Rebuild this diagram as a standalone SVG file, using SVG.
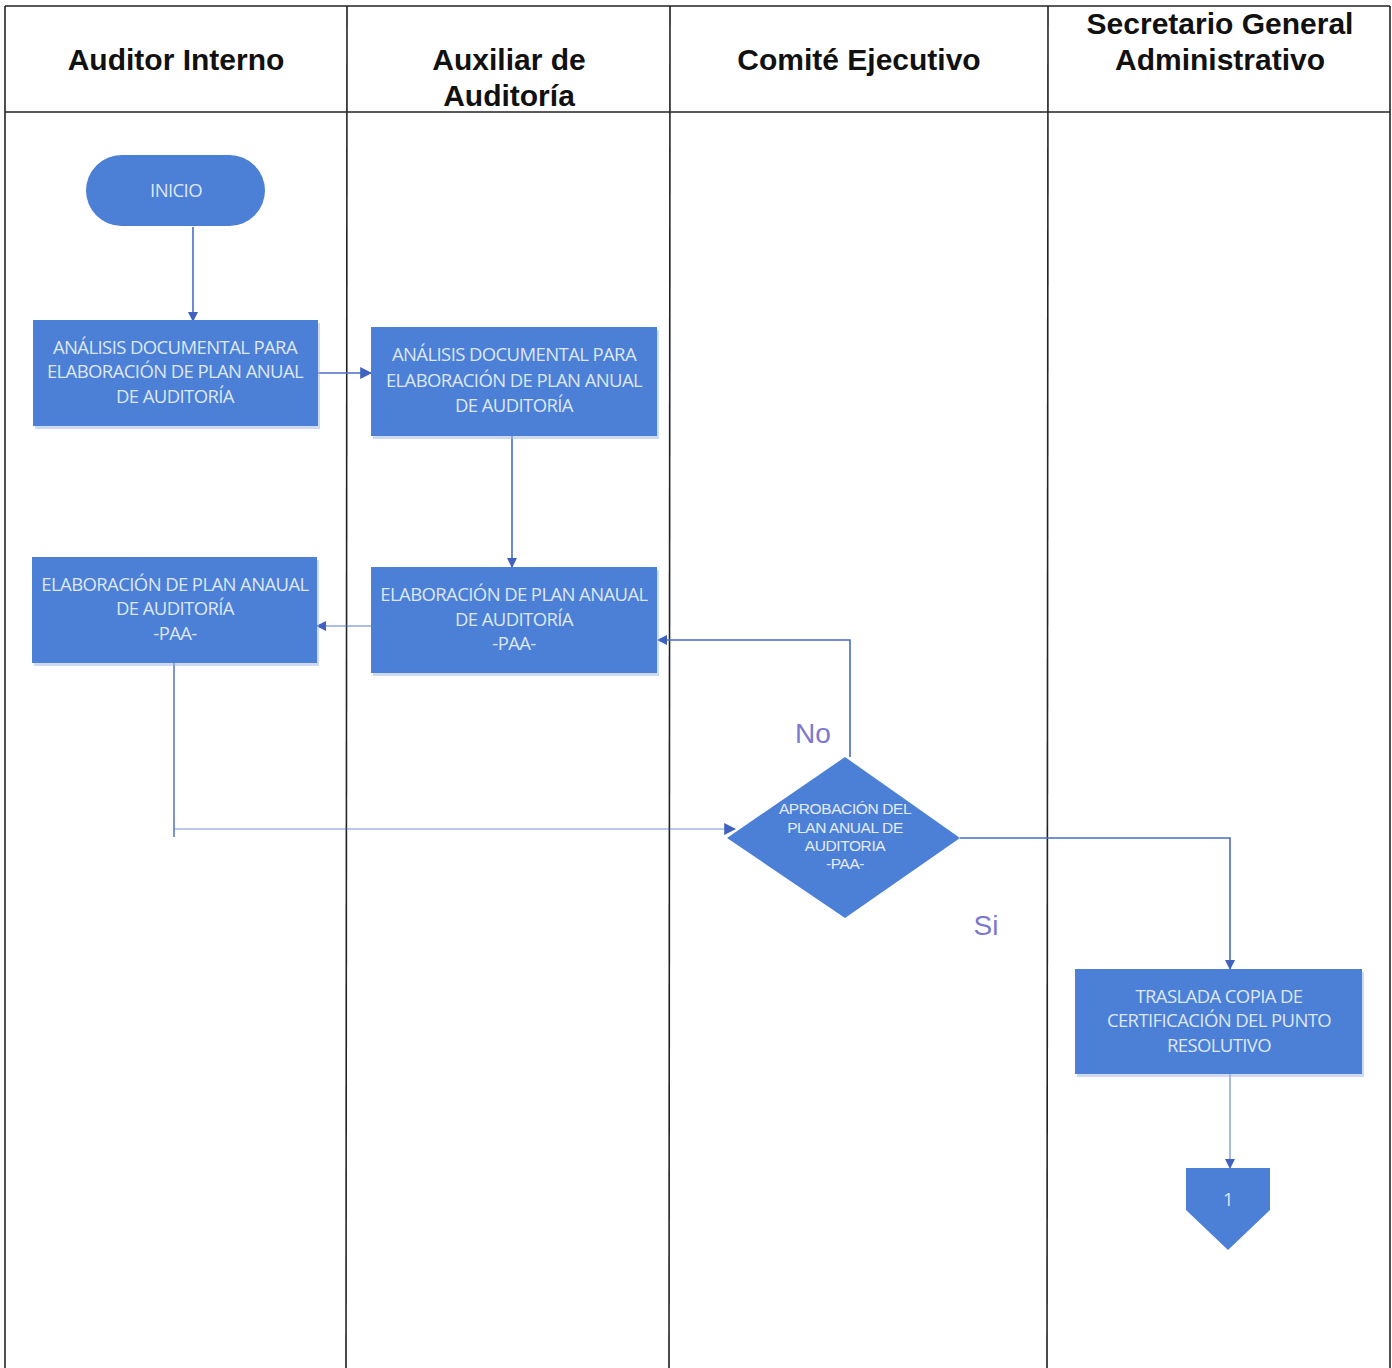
<svg xmlns="http://www.w3.org/2000/svg" width="1392" height="1368" viewBox="0 0 1392 1368">
<defs>
<style>
.lane{fill:none;stroke:#222;stroke-width:1.6}
.hdr{font-family:"Liberation Sans",Arial,sans-serif;font-weight:bold;font-size:30px;fill:#111;text-anchor:middle}
.box{fill:#4c7fd6}
.shadow{fill:#9db6e3;opacity:0.5}
.bt{font-family:"Open Sans","Noto Sans",sans-serif;font-size:18.5px;fill:#dde7f7;text-anchor:middle;letter-spacing:-0.6px}
.dt{font-family:"Liberation Sans",Arial,sans-serif;font-size:15.5px;fill:#e4ebf8;text-anchor:middle;letter-spacing:-0.4px}
.conn{fill:none;stroke:#4a6cc6;stroke-width:1.6}
.lbl{font-family:"Liberation Sans",Arial,sans-serif;font-size:28px;fill:#7b78d0;text-anchor:middle}
</style>
<marker id="arr" viewBox="0 0 10 10" refX="9" refY="5" markerWidth="10" markerHeight="10" markerUnits="userSpaceOnUse" orient="auto">
<path d="M0,0 L10,5 L0,10 z" fill="#3f62c0"/>
</marker>
<marker id="arrL" viewBox="0 0 10 10" refX="9" refY="5" markerWidth="12" markerHeight="12" markerUnits="userSpaceOnUse" orient="auto">
<path d="M0,0 L10,5 L0,10 z" fill="#3f62c0"/>
</marker>
</defs>
<rect width="1392" height="1368" fill="#fff"/>

<g id="lanes">
<line class="lane" x1="5" y1="6" x2="1390" y2="6"/>
<line class="lane" x1="5" y1="112" x2="1390" y2="112"/>
<line class="lane" x1="5" y1="6" x2="5" y2="1368"/>
<line class="lane" x1="347" y1="6" x2="346" y2="1368"/>
<line class="lane" x1="670" y1="6" x2="669" y2="1368"/>
<line class="lane" x1="1048" y1="6" x2="1047" y2="1368"/>
<line class="lane" x1="1390" y1="6" x2="1390" y2="1368"/>
<text class="hdr" x="176" y="70">Auditor Interno</text>
<text class="hdr" x="509" y="70">Auxiliar de</text>
<text class="hdr" x="509" y="106">Auditoría</text>
<text class="hdr" x="859" y="70">Comité Ejecutivo</text>
<text class="hdr" x="1220" y="34">Secretario General</text>
<text class="hdr" x="1220" y="70">Administrativo</text>
</g>

<g id="connectors">
<line class="conn" x1="193" y1="227" x2="193" y2="321" marker-end="url(#arr)"/>
<line class="conn" x1="318" y1="373" x2="371" y2="373" marker-end="url(#arrL)"/>
<line class="conn" x1="512" y1="436" x2="512" y2="567" marker-end="url(#arr)"/>
<line class="conn" x1="371" y1="626" x2="317" y2="626" marker-end="url(#arr)" stroke-opacity="0.6"/>
<polyline class="conn" points="174,663 174,837" stroke-opacity="0.9"/>
<polyline class="conn" points="174,829 735,829" stroke-opacity="0.5" marker-end="url(#arrL)"/>
<polyline class="conn" points="850,757 850,640 658,640" marker-end="url(#arr)"/>
<polyline class="conn" points="960,838 1230,838 1230,969" marker-end="url(#arr)"/>
<line class="conn" x1="1230" y1="1074" x2="1230" y2="1168" stroke-opacity="0.6" marker-end="url(#arr)"/>
<text class="lbl" x="813" y="743">No</text>
<text class="lbl" x="986" y="935">Si</text>
</g>

<g id="inicio">
<rect x="86" y="155" width="179" height="71" rx="35.5" class="box"/>
<text class="bt" x="176" y="197">INICIO</text>
</g>

<g id="analisis-auditor">
<rect x="35" y="323" width="285" height="106" class="shadow"/>
<rect x="33" y="320" width="285" height="106" class="box"/>
<text class="bt" x="175" y="354">ANÁLISIS DOCUMENTAL PARA</text>
<text class="bt" x="175" y="378">ELABORACIÓN DE PLAN ANUAL</text>
<text class="bt" x="175" y="403">DE AUDITORÍA</text>
</g>

<g id="analisis-auxiliar">
<rect x="373" y="330" width="286" height="109" class="shadow"/>
<rect x="371" y="327" width="286" height="109" class="box"/>
<text class="bt" x="514" y="361">ANÁLISIS DOCUMENTAL PARA</text>
<text class="bt" x="514" y="387">ELABORACIÓN DE PLAN ANUAL</text>
<text class="bt" x="514" y="412">DE AUDITORÍA</text>
</g>

<g id="elaboracion-auxiliar">
<rect x="373" y="570" width="286" height="106" class="shadow"/>
<rect x="371" y="567" width="286" height="106" class="box"/>
<text class="bt" x="514" y="601">ELABORACIÓN DE PLAN ANAUAL</text>
<text class="bt" x="514" y="626">DE AUDITORÍA</text>
<text class="bt" x="514" y="650">-PAA-</text>
</g>

<g id="elaboracion-auditor">
<rect x="34" y="560" width="285" height="106" class="shadow"/>
<rect x="32" y="557" width="285" height="106" class="box"/>
<text class="bt" x="175" y="591">ELABORACIÓN DE PLAN ANAUAL</text>
<text class="bt" x="175" y="615">DE AUDITORÍA</text>
<text class="bt" x="175" y="640">-PAA-</text>
</g>

<g id="aprobacion">
<polygon points="845,757 960,838 845,918 727,838" class="box" fill="#4a7cd2"/>
<text class="dt" x="845" y="814">APROBACIÓN DEL</text>
<text class="dt" x="845" y="833">PLAN ANUAL DE</text>
<text class="dt" x="845" y="851">AUDITORIA</text>
<text class="dt" x="845" y="869">-PAA-</text>
</g>

<g id="traslada">
<rect x="1077" y="972" width="287" height="105" class="shadow"/>
<rect x="1075" y="969" width="287" height="105" class="box"/>
<text class="bt" x="1219" y="1003">TRASLADA COPIA DE</text>
<text class="bt" x="1219" y="1027">CERTIFICACIÓN DEL PUNTO</text>
<text class="bt" x="1219" y="1052">RESOLUTIVO</text>
</g>

<g id="conector-1">
<polygon points="1186,1168 1270,1168 1270,1210 1228,1250 1186,1210" class="box"/>
<text class="bt" x="1228" y="1206" font-size="16">1</text>
</g>
</svg>
